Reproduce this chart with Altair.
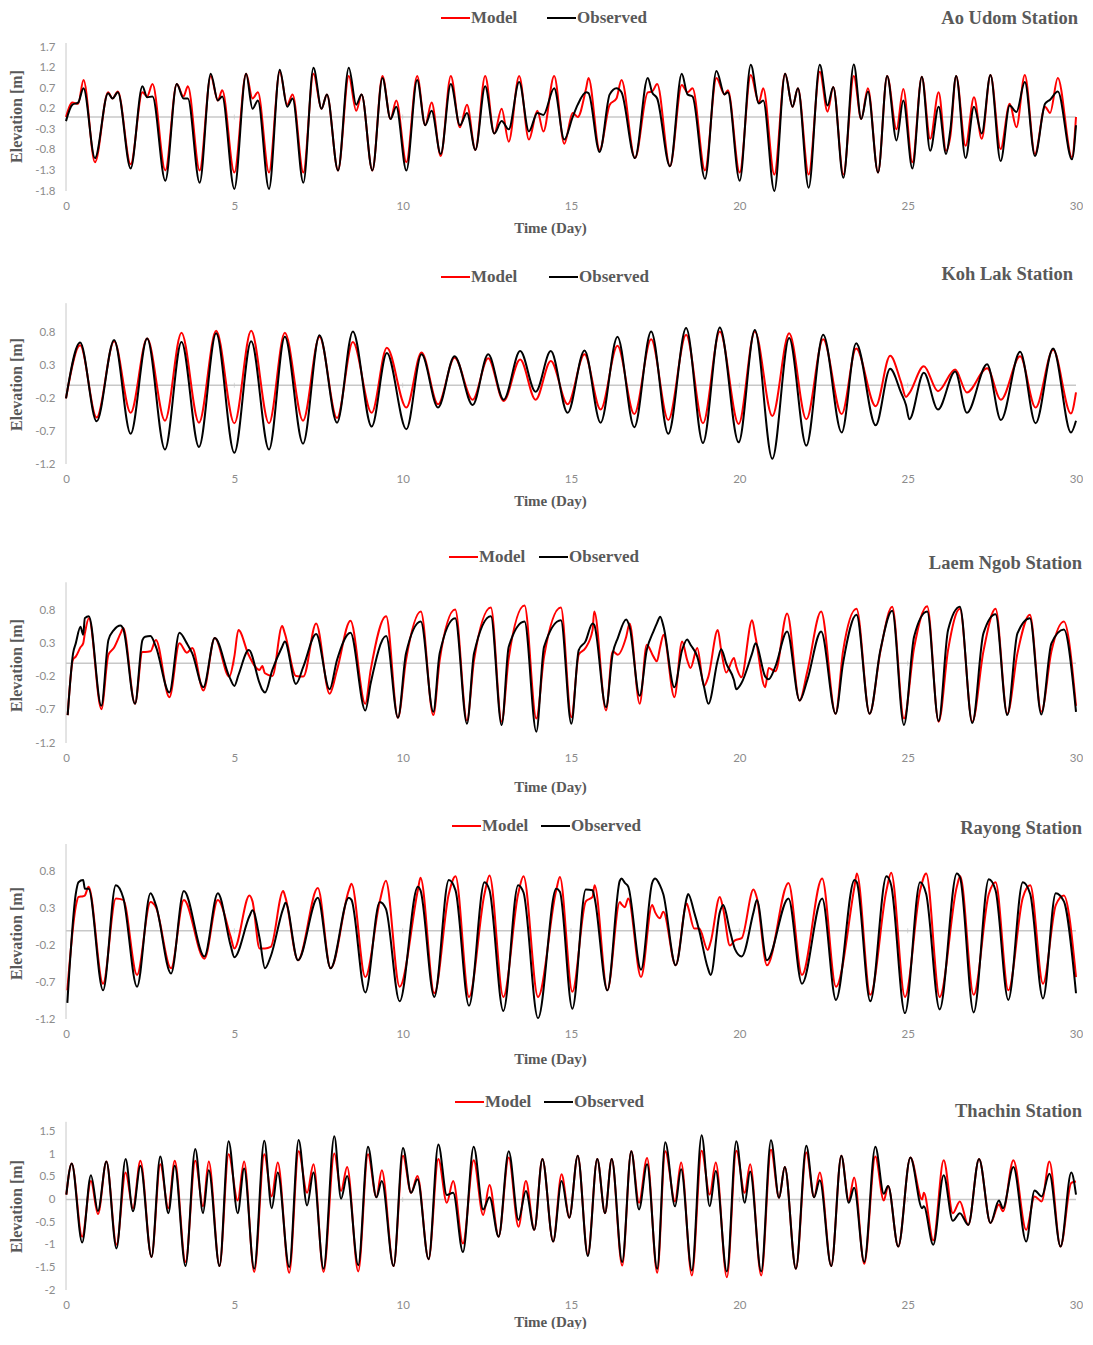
import altair as alt
import pandas as pd

# ---------------- data: (time [day], model [m], observed [m]) ----------------
AO_UDOM = [
    (0.00, 0.00, -0.10), (0.19, 0.35, 0.30), (0.36, 0.32, 0.35), (0.52, 0.90, 0.70),
    (0.86, -1.10, -1.00), (1.25, 0.60, 0.58), (1.38, 0.45, 0.45), (1.54, 0.62, 0.60),
    (1.92, -1.15, -1.25), (2.27, 0.60, 0.75), (2.41, 0.50, 0.48), (2.57, 0.80, 0.50),
    (2.95, -1.30, -1.55), (3.29, 0.80, 0.80), (3.49, 0.50, 0.45), (3.62, 0.75, 0.45),
    (3.97, -1.30, -1.60), (4.30, 1.00, 1.05), (4.51, 0.40, 0.40), (4.64, 0.65, 0.50),
    (5.00, -1.35, -1.75), (5.35, 1.05, 1.05), (5.54, 0.45, 0.20), (5.70, 0.60, 0.40),
    (6.03, -1.35, -1.75), (6.35, 1.10, 1.15), (6.57, 0.30, 0.25), (6.73, 0.55, 0.45),
    (7.05, -1.35, -1.60), (7.35, 1.05, 1.20), (7.59, 0.20, 0.20), (7.75, 0.55, 0.55),
    (8.08, -1.30, -1.30), (8.40, 1.00, 1.20), (8.62, 0.15, 0.30), (8.78, 0.55, 0.55),
    (9.10, -1.30, -1.30), (9.40, 1.00, 0.95), (9.64, -0.05, -0.05), (9.81, 0.40, 0.25),
    (10.11, -1.10, -1.30), (10.43, 1.00, 0.90), (10.67, -0.20, -0.20), (10.86, 0.35, 0.15),
    (11.13, -0.95, -0.90), (11.43, 1.00, 0.80), (11.70, -0.25, -0.20), (11.91, 0.30, 0.10),
    (12.16, -0.80, -0.80), (12.45, 1.00, 0.75), (12.72, -0.40, -0.40), (12.94, 0.20, -0.10),
    (13.15, -0.60, -0.30), (13.46, 1.00, 0.85), (13.75, -0.55, -0.35), (14.00, 0.15, 0.10),
    (14.18, -0.35, 0.05), (14.50, 1.00, 0.70), (14.80, -0.65, -0.55), (15.05, 0.10, 0.00),
    (15.20, 0.00, 0.30), (15.45, 0.70, 0.60), (15.52, 0.95, 0.58), (15.85, -0.80, -0.85),
    (16.15, 0.30, 0.55), (16.35, 0.45, 0.70), (16.50, 0.90, 0.60), (16.90, -1.00, -1.00),
    (17.28, 0.60, 0.95), (17.41, 0.62, 0.60), (17.56, 0.80, 0.45), (17.94, -1.20, -1.20),
    (18.29, 0.78, 1.05), (18.46, 0.60, 0.55), (18.61, 0.70, 0.50), (18.98, -1.30, -1.50),
    (19.32, 0.95, 1.12), (19.56, 0.55, 0.55), (19.66, 0.65, 0.60), (20.01, -1.35, -1.55),
    (20.34, 1.02, 1.27), (20.58, 0.35, 0.33), (20.71, 0.70, 0.40), (21.04, -1.40, -1.80),
    (21.36, 1.05, 1.05), (21.58, 0.25, 0.25), (21.74, 0.70, 0.70), (22.06, -1.40, -1.72),
    (22.39, 1.10, 1.27), (22.62, 0.13, 0.28), (22.79, 0.73, 0.73), (23.09, -1.40, -1.48),
    (23.40, 1.00, 1.28), (23.62, -0.05, -0.05), (23.82, 0.70, 0.62), (24.12, -1.35, -1.35),
    (24.39, 1.00, 1.00), (24.67, -0.30, -0.57), (24.87, 0.68, 0.40), (25.14, -1.10, -1.25),
    (25.42, 0.98, 0.98), (25.67, -0.53, -0.82), (25.92, 0.60, 0.25), (26.14, -0.82, -0.90),
    (26.27, -0.45, -0.30), (26.44, 1.00, 1.00), (26.72, -0.70, -1.00), (26.97, 0.48, 0.25),
    (27.20, -0.53, -0.40), (27.46, 1.02, 1.02), (27.76, -0.78, -1.07), (28.03, 0.32, 0.28),
    (28.23, -0.25, 0.12), (28.48, 1.02, 0.85), (28.78, -0.90, -0.95), (29.08, 0.25, 0.32),
    (29.23, 0.10, 0.42), (29.46, 0.95, 0.62), (29.88, -0.98, -1.03), (30.00, 0.00, -0.20),
]

KOH_LAK = [
    (0.00, -0.20, -0.20), (0.42, 0.61, 0.65), (0.91, -0.49, -0.55), (1.43, 0.67, 0.69),
    (1.92, -0.42, -0.74), (2.41, 0.71, 0.71), (2.94, -0.54, -0.98), (3.43, 0.80, 0.66),
    (3.95, -0.57, -0.94), (4.46, 0.83, 0.79), (5.00, -0.58, -1.03), (5.50, 0.83, 0.67),
    (6.03, -0.58, -0.98), (6.50, 0.80, 0.74), (7.04, -0.54, -0.89), (7.53, 0.74, 0.76),
    (8.05, -0.50, -0.57), (8.52, 0.66, 0.82), (9.08, -0.42, -0.63), (9.53, 0.57, 0.49),
    (10.11, -0.34, -0.67), (10.56, 0.50, 0.47), (11.05, -0.29, -0.34), (11.54, 0.42, 0.44),
    (12.08, -0.22, -0.30), (12.54, 0.41, 0.47), (13.00, -0.24, -0.22), (13.49, 0.39, 0.52),
    (13.95, -0.22, -0.10), (14.40, 0.37, 0.52), (14.90, -0.29, -0.42), (15.40, 0.47, 0.53),
    (15.88, -0.37, -0.57), (16.38, 0.60, 0.74), (16.88, -0.44, -0.64), (17.38, 0.70, 0.82),
    (17.89, -0.53, -0.74), (18.42, 0.77, 0.87), (18.92, -0.58, -0.88), (19.42, 0.82, 0.88),
    (19.98, -0.59, -0.87), (20.46, 0.82, 0.84), (20.98, -0.47, -1.12), (21.48, 0.79, 0.72),
    (21.99, -0.52, -0.92), (22.49, 0.70, 0.77), (23.04, -0.44, -0.72), (23.47, 0.56, 0.64),
    (24.05, -0.32, -0.61), (24.48, 0.45, 0.25), (24.80, 0.05, -0.11), (24.95, -0.18, -0.30),
    (25.05, -0.12, -0.52), (25.48, 0.29, 0.19), (25.90, -0.09, -0.37), (26.41, 0.24, 0.21),
    (26.76, -0.11, -0.42), (27.36, 0.26, 0.32), (27.77, -0.22, -0.53), (28.34, 0.44, 0.51),
    (28.80, -0.34, -0.58), (29.32, 0.54, 0.56), (29.85, -0.43, -0.72), (30.00, -0.11, -0.54),
]

LAEM_NGOB = [
    (0.05, -0.78, -0.78), (0.21, 0.06, 0.15), (0.29, 0.10, 0.30), (0.43, 0.24, 0.55),
    (0.51, 0.30, 0.43), (0.56, 0.45, 0.68), (0.68, 0.68, 0.71), (1.05, -0.69, -0.64),
    (1.26, 0.13, 0.35), (1.42, 0.23, 0.50), (1.62, 0.45, 0.57), (1.70, 0.53, 0.52),
    (2.05, -0.61, -0.61), (2.27, 0.17, 0.35), (2.35, 0.17, 0.40), (2.51, 0.18, 0.41),
    (2.67, 0.35, 0.25), (3.07, -0.51, -0.44), (3.37, 0.30, 0.46), (3.59, 0.16, 0.30),
    (3.75, 0.23, 0.15), (4.08, -0.41, -0.36), (4.42, 0.38, 0.38), (4.85, -0.20, -0.20),
    (5.00, 0.10, -0.34), (5.12, 0.50, -0.18), (5.43, 0.12, 0.20), (5.75, -0.10, -0.30),
    (5.83, -0.04, -0.40), (5.91, -0.15, -0.44), (6.13, -0.19, -0.10), (6.42, 0.56, 0.25),
    (6.50, 0.45, 0.33), (6.83, -0.19, -0.31), (7.05, -0.20, -0.05), (7.43, 0.60, 0.44),
    (7.83, -0.46, -0.39), (8.05, -0.10, 0.05), (8.45, 0.64, 0.46), (8.89, -0.61, -0.71),
    (9.05, -0.10, -0.30), (9.51, 0.71, 0.41), (9.86, -0.82, -0.82), (10.10, 0.05, 0.15),
    (10.54, 0.78, 0.63), (10.91, -0.78, -0.73), (11.10, 0.05, 0.15), (11.56, 0.81, 0.68),
    (11.91, -0.86, -0.91), (12.12, 0.05, 0.15), (12.62, 0.84, 0.71), (12.94, -0.88, -0.93),
    (13.15, 0.08, 0.25), (13.62, 0.87, 0.63), (13.97, -0.83, -1.03), (14.20, 0.10, 0.25),
    (14.70, 0.84, 0.65), (15.01, -0.81, -0.91), (15.23, 0.13, 0.20), (15.43, 0.23, 0.33),
    (15.64, 0.50, 0.60), (15.69, 0.78, 0.58), (16.04, -0.71, -0.66), (16.24, 0.18, 0.15),
    (16.39, 0.13, 0.38), (16.64, 0.40, 0.66), (16.74, 0.60, 0.55), (17.04, -0.61, -0.49),
    (17.25, 0.28, 0.20), (17.45, 0.10, 0.48), (17.55, 0.03, 0.60), (17.65, 0.25, 0.70),
    (17.75, 0.43, 0.55), (18.07, -0.51, -0.36), (18.30, 0.33, 0.20), (18.45, 0.05, 0.36),
    (18.55, -0.07, 0.28), (18.75, 0.23, 0.10), (18.95, -0.34, -0.35), (19.08, -0.20, -0.61),
    (19.36, 0.50, 0.05), (19.46, 0.20, 0.21), (19.61, -0.14, 0.00), (19.84, 0.08, -0.25),
    (19.91, -0.05, -0.39), (20.06, -0.21, -0.30), (20.38, 0.65, 0.15), (20.48, 0.40, 0.30),
    (20.77, -0.36, -0.20), (20.87, -0.07, -0.24), (21.07, -0.12, -0.05), (21.42, 0.75, 0.48),
    (21.79, -0.56, -0.56), (22.02, -0.12, -0.25), (22.43, 0.78, 0.48), (22.86, -0.76, -0.76),
    (23.08, 0.18, 0.00), (23.48, 0.82, 0.73), (23.87, -0.76, -0.76), (24.19, 0.18, 0.20),
    (24.54, 0.85, 0.79), (24.89, -0.83, -0.93), (25.19, 0.23, 0.40), (25.58, 0.86, 0.78),
    (25.92, -0.88, -0.87), (26.20, 0.20, 0.50), (26.55, 0.82, 0.85), (26.92, -0.88, -0.90),
    (27.25, 0.18, 0.45), (27.61, 0.82, 0.74), (27.96, -0.76, -0.78), (28.26, 0.15, 0.45),
    (28.63, 0.73, 0.68), (28.97, -0.73, -0.77), (29.27, 0.18, 0.30), (29.64, 0.63, 0.51),
    (30.00, -0.64, -0.73),
]

RAYONG = [
    (0.04, -0.81, -0.98), (0.29, 0.33, 0.50), (0.37, 0.46, 0.66), (0.51, 0.47, 0.69),
    (0.56, 0.48, 0.57), (0.67, 0.60, 0.57), (1.10, -0.72, -0.81), (1.48, 0.44, 0.62),
    (1.70, 0.42, 0.45), (2.11, -0.60, -0.76), (2.51, 0.39, 0.51), (2.67, 0.32, 0.35),
    (3.12, -0.51, -0.58), (3.50, 0.42, 0.54), (4.11, -0.38, -0.35), (4.51, 0.42, 0.51),
    (4.89, -0.08, -0.20), (5.00, -0.24, -0.36), (5.45, 0.48, 0.20), (5.54, 0.40, 0.28),
    (5.75, -0.24, -0.10), (5.91, -0.24, -0.51), (6.08, -0.22, -0.35), (6.45, 0.54, 0.30),
    (6.52, 0.45, 0.38), (6.89, -0.40, -0.40), (7.48, 0.58, 0.45), (7.86, -0.51, -0.51),
    (8.40, 0.55, 0.45), (8.48, 0.64, 0.42), (8.89, -0.63, -0.84), (9.32, 0.40, 0.39),
    (9.50, 0.68, 0.30), (9.91, -0.76, -0.96), (10.45, 0.55, 0.60), (10.53, 0.72, 0.55),
    (10.94, -0.85, -0.90), (11.37, 0.50, 0.69), (11.57, 0.74, 0.55), (11.97, -0.90, -1.02),
    (12.43, 0.50, 0.66), (12.58, 0.75, 0.55), (12.99, -0.90, -1.09), (13.43, 0.50, 0.62),
    (13.59, 0.74, 0.52), (14.02, -0.90, -1.19), (14.56, 0.55, 0.57), (14.67, 0.73, 0.53),
    (15.04, -0.83, -1.06), (15.44, 0.40, 0.56), (15.64, 0.46, 0.55), (15.70, 0.62, 0.45),
    (16.08, -0.81, -0.81), (16.45, 0.39, 0.68), (16.50, 0.36, 0.71), (16.60, 0.32, 0.65),
    (16.70, 0.44, 0.60), (17.08, -0.63, -0.53), (17.41, 0.35, 0.65), (17.50, 0.25, 0.71),
    (17.64, 0.17, 0.62), (17.74, 0.26, 0.50), (18.11, -0.47, -0.47), (18.44, 0.37, 0.45),
    (18.48, 0.32, 0.50), (18.66, 0.03, 0.25), (18.81, 0.03, 0.00), (19.06, -0.26, -0.50),
    (19.15, -0.15, -0.60), (19.42, 0.46, 0.25), (19.52, 0.30, 0.35), (19.72, -0.20, 0.00),
    (19.87, -0.13, -0.25), (20.07, -0.10, -0.35), (20.42, 0.56, 0.25), (20.52, 0.45, 0.42),
    (20.82, -0.47, -0.40), (21.46, 0.65, 0.44), (21.86, -0.60, -0.72), (22.46, 0.71, 0.44),
    (22.87, -0.76, -0.94), (23.42, 0.60, 0.69), (23.49, 0.78, 0.66), (23.89, -0.87, -0.96),
    (24.37, 0.55, 0.74), (24.51, 0.79, 0.62), (24.92, -0.90, -1.12), (25.37, 0.55, 0.66),
    (25.55, 0.78, 0.50), (25.95, -0.90, -1.07), (26.46, 0.60, 0.78), (26.56, 0.74, 0.72),
    (26.96, -0.87, -1.11), (27.41, 0.50, 0.70), (27.61, 0.66, 0.55), (27.99, -0.81, -0.94),
    (28.42, 0.45, 0.66), (28.64, 0.62, 0.50), (29.02, -0.72, -0.92), (29.40, 0.35, 0.51),
    (29.64, 0.48, 0.40), (30.00, -0.63, -0.85),
]

THACHIN = [
    (0.01, 0.11, 0.11), (0.17, 0.80, 0.80), (0.48, -0.82, -0.95), (0.74, 0.41, 0.54),
    (0.95, -0.32, -0.25), (1.20, 0.84, 0.84), (1.50, -1.00, -1.08), (1.77, 0.60, 0.90),
    (1.99, -0.19, -0.26), (2.21, 0.86, 0.75), (2.54, -1.27, -1.27), (2.80, 0.78, 0.95),
    (3.04, -0.19, -0.30), (3.23, 0.86, 0.75), (3.55, -1.38, -1.47), (3.84, 0.86, 1.12),
    (4.07, -0.15, -0.30), (4.24, 0.84, 0.65), (4.56, -1.47, -1.47), (4.83, 1.00, 1.29),
    (5.10, -0.02, -0.30), (5.29, 0.84, 0.69), (5.59, -1.60, -1.53), (5.89, 1.00, 1.30),
    (6.11, 0.07, -0.19), (6.29, 0.82, 0.60), (6.63, -1.62, -1.49), (6.91, 1.07, 1.32),
    (7.16, 0.15, -0.13), (7.35, 0.78, 0.60), (7.65, -1.60, -1.53), (7.97, 1.02, 1.40),
    (8.17, 0.19, 0.02), (8.35, 0.72, 0.52), (8.68, -1.59, -1.45), (8.97, 1.00, 1.17),
    (9.22, 0.05, 0.05), (9.38, 0.65, 0.41), (9.73, -1.47, -1.47), (10.01, 0.97, 1.14),
    (10.25, 0.15, 0.15), (10.44, 0.52, 0.45), (10.77, -1.32, -1.32), (11.06, 0.90, 1.22),
    (11.31, -0.07, 0.10), (11.50, 0.41, 0.15), (11.79, -0.97, -1.16), (12.11, 0.87, 1.17),
    (12.39, -0.34, -0.22), (12.58, 0.32, 0.05), (12.85, -0.82, -0.82), (13.15, 0.93, 1.07),
    (13.44, -0.60, -0.45), (13.66, 0.41, 0.19), (13.91, -0.67, -0.67), (14.15, 0.90, 0.90),
    (14.47, -0.93, -0.93), (14.72, 0.56, 0.41), (14.95, -0.40, -0.40), (15.20, 0.97, 0.97),
    (15.50, -1.22, -1.25), (15.78, 0.90, 0.90), (16.01, -0.30, -0.30), (16.21, 0.90, 0.90),
    (16.52, -1.46, -1.38), (16.79, 1.07, 1.07), (17.02, -0.07, -0.22), (17.26, 0.92, 0.78),
    (17.56, -1.62, -1.53), (17.80, 1.07, 1.27), (18.09, -0.04, -0.15), (18.27, 0.82, 0.67),
    (18.59, -1.68, -1.57), (18.88, 1.08, 1.42), (19.12, 0.11, -0.15), (19.30, 0.82, 0.63),
    (19.63, -1.72, -1.59), (19.91, 1.08, 1.29), (20.16, 0.15, -0.07), (20.32, 0.78, 0.62),
    (20.65, -1.68, -1.59), (20.94, 1.10, 1.31), (21.18, 0.04, 0.04), (21.35, 0.72, 0.72),
    (21.68, -1.53, -1.53), (21.99, 1.04, 1.19), (22.22, 0.05, 0.05), (22.39, 0.60, 0.43),
    (22.73, -1.47, -1.47), (23.03, 0.97, 0.97), (23.25, -0.02, -0.07), (23.41, 0.49, 0.26),
    (23.71, -1.42, -1.38), (24.04, 0.95, 1.17), (24.29, -0.02, 0.13), (24.42, 0.30, 0.30),
    (24.72, -1.04, -1.04), (25.08, 0.93, 0.93), (25.43, 0.00, -0.19), (25.48, 0.15, -0.15),
    (25.76, -0.90, -1.00), (26.07, 0.87, 0.54), (26.34, -0.30, -0.47), (26.55, -0.04, -0.30),
    (26.80, -0.56, -0.56), (27.12, 0.90, 0.90), (27.46, -0.52, -0.52), (27.71, -0.11, -0.02),
    (27.83, -0.26, -0.19), (28.14, 0.87, 0.72), (28.52, -0.67, -0.93), (28.77, 0.07, 0.20),
    (28.98, -0.04, 0.07), (29.21, 0.84, 0.57), (29.54, -1.04, -1.04), (29.86, 0.37, 0.60),
    (30.00, 0.40, 0.11),
]

SERIES = ["Model", "Observed"]
X_TICKS = [0, 5, 10, 15, 20, 25, 30]
Y_TICKS_AO = [-1.8, -1.3, -0.8, -0.3, 0.2, 0.7, 1.2, 1.7]
Y_TICKS_MID = [-1.2, -0.7, -0.2, 0.3, 0.8]
Y_TICKS_TH = [-2, -1.5, -1, -0.5, 0, 0.5, 1, 1.5]

# ---------------- styling ----------------
SERIF = "Liberation Serif"
SANS = "Lato"
GREY_TEXT = "#595959"
GREY_TICK = "#8c8c8c"
AXIS_GREY = "#c8c8c8"
RED = "#ff0000"
BLACK = "#000000"
W = 1010

FMT1 = "datum.value < 0 ? '-' + format(-datum.value, '.1f') : format(datum.value, '.1f')"
FMTG = "datum.value < 0 ? '-' + format(-datum.value, '~g') : format(datum.value, '~g')"


def panel(rows, station, yticks, ydom, ytop, height, fmt, leg_y, leg_x, title_y,
          title_right, xtitle_y, ytitle_y):
    df = pd.DataFrame(rows, columns=["t", "Model", "Observed"])
    long = df.melt("t", var_name="series", value_name="elev")

    xscale = alt.Scale(domain=[0, 30], nice=False, zero=False)
    yscale = alt.Scale(domain=ydom, nice=False, zero=False)
    xaxis = alt.Axis(values=X_TICKS, title="Time (Day)", domain=False, ticks=False,
                     grid=False, labelFont=SANS, labelFontSize=11.5, labelFlush=False,
                     labelColor=GREY_TICK, labelPadding=9, titleFont=SERIF,
                     titleFontSize=15, titleFontWeight="bold", titleColor=GREY_TEXT,
                     titleX=484, titleY=xtitle_y, titleBaseline="middle",
                     titleAlign="center")
    yaxis = alt.Axis(values=yticks, title="Elevation [m]", domain=False, ticks=False,
                     grid=False, labelExpr=fmt, labelFont=SANS, labelFontSize=11.5,
                     labelColor=GREY_TICK, labelPadding=11, titleFont=SERIF,
                     titleFontSize=16, titleFontWeight="bold", titleColor=GREY_TEXT,
                     titleAngle=270, titleX=-42, titleY=ytitle_y,
                     titleBaseline="bottom", titleAlign="center")

    X = alt.X("t:Q", scale=xscale, axis=xaxis)
    Y = alt.Y("elev:Q", scale=yscale, axis=yaxis)

    zero = alt.Chart(pd.DataFrame({"t": [0], "t2": [30], "elev": [0]})).mark_rule(
        color=AXIS_GREY, strokeWidth=1.5).encode(x=X, x2="t2:Q", y=Y)
    zticks = alt.Chart(pd.DataFrame({"t": X_TICKS[1:-1], "elev": [0] * 5})).mark_tick(
        color=AXIS_GREY, orient="vertical", size=5, thickness=1).encode(x=X, y=Y)
    yline = alt.Chart(pd.DataFrame({"t": [0], "elev": [ydom[0]], "e2": [ytop]})).mark_rule(
        color=AXIS_GREY, strokeWidth=1).encode(x=X, y=Y, y2="e2:Q")

    model = alt.Chart(long).transform_filter(alt.datum.series == "Model").mark_line(
        color=RED, strokeWidth=2, interpolate="monotone").encode(x=X, y=Y)
    obs = alt.Chart(long).transform_filter(alt.datum.series == "Observed").mark_line(
        color=BLACK, strokeWidth=2, interpolate="monotone").encode(x=X, y=Y)

    layers = [zero, zticks, yline, model, obs]
    for name, col, x0 in zip(SERIES, [RED, BLACK], leg_x):
        d = pd.DataFrame({"series": [name]})
        layers.append(alt.Chart(d).mark_rule(color=col, strokeWidth=2).encode(
            x=alt.value(x0), x2=alt.value(x0 + 29), y=alt.value(leg_y)))
        layers.append(alt.Chart(d).mark_text(
            align="left", baseline="middle", font=SERIF, fontSize=17,
            fontWeight="bold", color=GREY_TEXT).encode(
            x=alt.value(x0 + 30), y=alt.value(leg_y), text="series:N"))
    layers.append(alt.Chart(pd.DataFrame({"station": [station]})).mark_text(
        align="right", baseline="middle", font=SERIF, fontSize=18.5, fontWeight="bold",
        color=GREY_TEXT).encode(x=alt.value(title_right), y=alt.value(title_y),
                                text="station:N"))
    return alt.layer(*layers).properties(width=W, height=height)


p1 = panel(AO_UDOM, "Ao Udom Station", Y_TICKS_AO, [-1.8, 1.8], 1.8, 148, FMT1,
           -25, (375, 481), -25, 1012, 36, 73)
p2 = panel(KOH_LAK, "Koh Lak Station", Y_TICKS_MID, [-1.2, 1.42], 1.25, 172, FMT1,
           -15, (375, 483), -18, 1007, 36, 92)
p3 = panel(LAEM_NGOB, "Laem Ngob Station", Y_TICKS_MID, [-1.2, 1.48], 1.22, 178, FMT1,
           -8, (383, 473), -2, 1016, 43, 100)
p4 = panel(RAYONG, "Rayong Station", Y_TICKS_MID, [-1.2, 1.18], 1.18, 175, FMT1,
           -18, (386, 475), -16, 1016, 39, 89)
p5 = panel(THACHIN, "Thachin Station", Y_TICKS_TH, [-2, 1.76], 1.72, 170, FMTG,
           -18, (389, 478), -9, 1016, 31, 86)

chart = alt.vconcat(p1, p2, p3, p4, p5, spacing=101, bounds="flush").properties(
    padding={"left": 0, "top": 1, "right": 0, "bottom": 0}
).configure_view(stroke=None)

chart.save("out.html", embed_options={"renderer": "svg", "actions": False})
